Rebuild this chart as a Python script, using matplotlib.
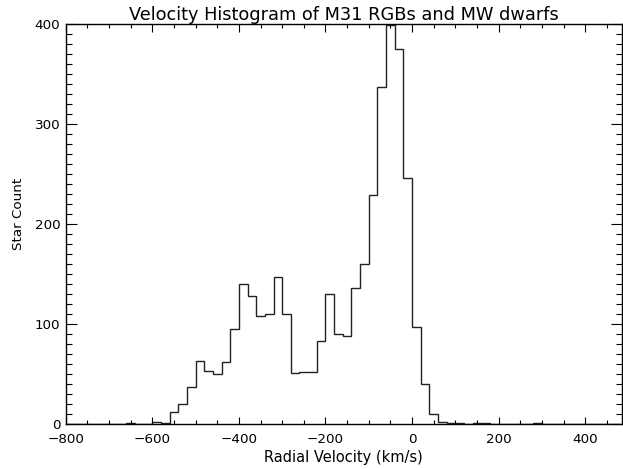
import numpy as np
import matplotlib
matplotlib.use("Agg")
import matplotlib.pyplot as plt
from matplotlib.ticker import MultipleLocator

# Histogram data (bin width 20 km/s, starting at -800 km/s)
bin_start = -800
bin_width = 20
counts = [
    0, 0, 0, 0, 0, 0, 0,          # -800 .. -680
    1, 0, 0,                      # -660, -640, -620
    2, 1, 12, 20, 37,             # -600 .. -520
    63, 53, 50, 62, 95,           # -500 .. -420
    140, 128, 108, 110, 147,      # -400 .. -320
    110, 51, 52, 52, 83,          # -300 .. -220
    130, 90, 88, 136, 160,        # -200 .. -120
    229, 337, 399, 375, 246,      # -100 .. -20
    97, 40, 10, 2, 1,             # 0 .. 80
    1, 0, 1, 1,                   # 100 .. 160
    0, 0, 0, 0, 0,                # 180 .. 260
    1,                            # 280
    0, 0, 0, 0, 0, 0, 0, 0, 0,    # 300 .. 460
]
edges = bin_start + bin_width * np.arange(len(counts) + 1)

title = "Velocity Histogram of M31 RGBs and MW dwarfs"
xlabel = "Radial Velocity (km/s)"
ylabel = "Star Count"
xticks = [-800, -600, -400, -200, 0, 200, 400]
yticks = [0, 100, 200, 300, 400]

fig = plt.figure(figsize=(6.23, 4.69), dpi=100)
ax = fig.add_axes([65.7 / 623, 45 / 469, (622 - 65.7) / 623, 400 / 469])

ax.stairs(counts, edges, color="#222222", linewidth=1.0)

ax.set_xlim(-800, 485)
ax.set_ylim(0, 400)
ax.set_xticks(xticks)
ax.set_yticks(yticks)
ax.set_xticklabels([str(t).replace("-", "\u2212") for t in xticks])
ax.xaxis.set_minor_locator(MultipleLocator(50))
ax.yaxis.set_minor_locator(MultipleLocator(10))

ax.tick_params(axis="both", which="both", direction="in", top=True, right=True,
               labelsize=9.7, width=0.8, colors="black")
ax.tick_params(axis="x", which="major", length=5.4, pad=6.5)
ax.tick_params(axis="x", which="minor", length=2.9)
ax.tick_params(axis="y", which="major", length=8, pad=4)
ax.tick_params(axis="y", which="minor", length=4)

for s in ax.spines.values():
    s.set_linewidth(1.0)
    s.set_color("black")

ax.set_title(title, fontsize=12.8, pad=3)
ax.set_xlabel(xlabel, fontsize=10.5, labelpad=2.5)
ax.set_ylabel(ylabel, fontsize=9.7)
ax.yaxis.set_label_coords(-0.0723, 0.525)

fig.savefig("out.png", dpi=100)
